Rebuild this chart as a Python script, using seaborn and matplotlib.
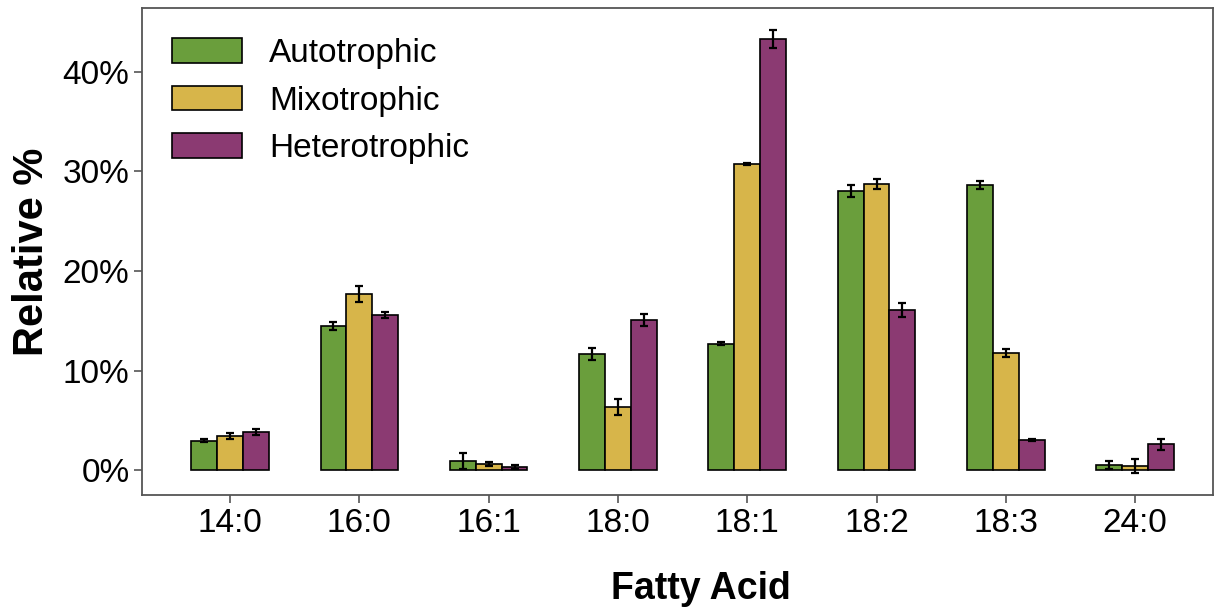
import pandas as pd
import matplotlib.pyplot as plt
import matplotlib.ticker as mtick
import seaborn as sns

# values (relative %)
acids = ["14:0", "16:0", "16:1", "18:0", "18:1", "18:2", "18:3", "24:0"]
groups = ["Autotrophic", "Mixotrophic", "Heterotrophic"]
autotrophic = [3.0, 14.5, 0.9, 11.7, 12.7, 28.0, 28.6, 0.5]
mixotrophic = [3.45, 17.7, 0.6, 6.4, 30.7, 28.7, 11.8, 0.4]
heterotrophic = [3.85, 15.6, 0.3, 15.1, 43.3, 16.1, 3.1, 2.6]
auto_err = [0.2, 0.4, 0.8, 0.6, 0.15, 0.6, 0.4, 0.4]
mixo_err = [0.3, 0.8, 0.2, 0.8, 0.1, 0.5, 0.4, 0.7]
hetero_err = [0.3, 0.3, 0.2, 0.6, 0.9, 0.7, 0.1, 0.6]
colors = ["#6a9e3c", "#d7b54a", "#8b3a72"]

df = pd.concat([
    pd.DataFrame({"acid": acids, "group": g, "value": v, "err": e})
    for g, v, e in zip(groups, [autotrophic, mixotrophic, heterotrophic],
                       [auto_err, mixo_err, hetero_err])
], ignore_index=True)

sns.set_theme(style="white")
plt.rcParams['font.family'] = ['Liberation Sans', 'DejaVu Sans']
plt.rcParams['text.color'] = 'black'
plt.rcParams['axes.labelcolor'] = 'black'

fig = plt.figure(figsize=(12.25, 6.1), dpi=100)
ax = fig.add_axes([0.116, 0.188, 0.874, 0.799])

sns.barplot(data=df, x="acid", y="value", hue="group", order=acids, hue_order=groups,
            palette=colors, saturation=1, width=0.6, errorbar=None, edgecolor="black",
            linewidth=1.2, ax=ax)

# error bars at the centres of the bars seaborn drew
for gi, g in enumerate(groups):
    sub = df[df["group"] == g].set_index("acid").loc[acids]
    bars = ax.containers[gi]
    xs = [p.get_x() + p.get_width() / 2 for p in bars]
    ax.errorbar(xs, sub["value"], yerr=sub["err"], fmt="none", ecolor="black",
                elinewidth=1.6, capsize=3, capthick=1.6, zorder=5)

ax.set_xlim(-0.68, 7.6)
ax.set_ylim(-2.5, 46.4)
ax.set_yticks([0, 10, 20, 30, 40])
ax.yaxis.set_major_formatter(mtick.PercentFormatter(decimals=0))
ax.set_xlabel("Fatty Acid", fontsize=27, fontweight="bold", labelpad=16)
ax.xaxis.set_label_coords(0.522, -0.155)
ax.set_ylabel("Relative %", fontsize=30, fontweight="bold", labelpad=8)
ax.tick_params(axis="both", labelsize=24, length=6, width=1.2, color="#555555",
               labelcolor="black", direction="out", left=True, bottom=True, pad=3)
for s in ax.spines.values():
    s.set_color("#555555")
    s.set_linewidth(1.3)

leg = ax.legend(loc="upper left", frameon=False, fontsize=24, handlelength=2.1,
                handleheight=0.75, labelspacing=0.5, handletextpad=0.8,
                borderaxespad=0.5)
for h in leg.legend_handles:
    h.set_edgecolor("black")

fig.savefig("out.png", dpi=100)
